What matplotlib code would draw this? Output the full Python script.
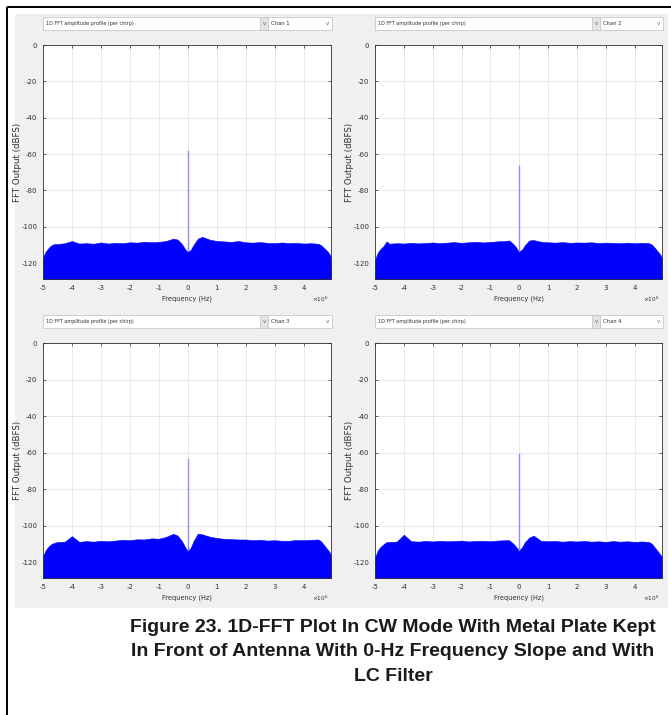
import matplotlib
matplotlib.use("Agg")
import matplotlib.pyplot as plt
from matplotlib.patches import Rectangle

W, H = 671, 715

# frequency breakpoints of the noise-floor envelope (MHz, axis is x10^6 Hz)
freq = [-5.0, -4.95, -4.9, -4.8, -4.7, -4.6, -4.5, -4.25, -4.0, -3.75, -3.5, -3.25,
        -3.0, -2.75, -2.5, -2.25, -2.0, -1.75, -1.5, -1.25, -1.0, -0.75, -0.5, -0.35,
        -0.2, -0.1, -0.03, 0.03, 0.1, 0.2, 0.35, 0.5, 0.75, 1.0, 1.25, 1.5, 1.75, 2.0,
        2.25, 2.5, 2.75, 3.0, 3.25, 3.5, 3.75, 4.0, 4.25, 4.5, 4.6, 4.7, 4.8, 4.9, 4.95]

# top of the noise floor per channel (dBFS)
floor_ch1 = [-117, -115, -113.5, -111.5, -110, -109.5, -109.5, -109, -107.8, -109.2, -109, -109.3,
             -108.6, -109.2, -108.8, -109, -108.5, -108.7, -108.2, -108.5, -108.3, -107.8, -106.5, -107,
             -109.5, -112, -113.5, -113.3, -112.8, -110, -106.5, -105.5, -107, -107.8, -108, -108.3, -107.8, -108.5,
             -108.7, -108.4, -108.8, -109, -108.6, -109, -108.8, -109.2, -109, -109.3, -110, -111.5, -113, -115, -117]
floor_ch2 = [-118.4, -116, -114, -112, -110.5, -108, -109.3, -109, -109.2, -108.8, -109.1, -108.9,
             -108.6, -109, -108.7, -108.4, -108.8, -108.5, -108.2, -108.6, -108.3, -108, -107.8, -107.5,
             -109.5, -111.5, -113.3, -113.2, -112.5, -110, -107.5, -107.3, -108.2, -108.5, -108.7, -108.4, -108.8, -108.6,
             -108.7, -108.5, -108.9, -108.7, -108.8, -109, -108.7, -109, -108.8, -109, -109.8, -111.5, -113.5, -115.5, -117.3]
floor_ch3 = [-117, -115, -113.3, -111.3, -110, -109.4, -109, -108.8, -105.8, -108.9, -108.5, -108.8,
             -108.3, -108.6, -108.2, -107.8, -108, -107.5, -107.6, -107, -107.2, -106.2, -104.5, -105.5,
             -108.5, -111.5, -113.3, -113.2, -112.3, -108.5, -104.4, -104.8, -106, -106.8, -107.2, -107.4, -107.6, -107.6,
             -108, -107.8, -108.2, -108, -108.3, -108.3, -107.9, -108, -107.8, -107.6, -108.5, -110.5, -112.5, -114.5, -116.8]
floor_ch4 = [-117.6, -115.5, -113.5, -111.5, -110.2, -109, -109, -108.8, -105, -108.5, -108.8, -108.4,
             -108.7, -108.3, -108.6, -108.5, -108.2, -108.7, -108.4, -108.3, -108.6, -108.2, -108, -108,
             -110, -111.8, -113.3, -113, -111.8, -109, -106.5, -105.5, -108.3, -108.6, -108.4, -108.8, -108.5, -108.7,
             -108.4, -108.8, -108.6, -108.9, -108.5, -108.8, -108.6, -108.9, -108.7, -109, -110, -112, -114, -116, -117.6]

# 0-Hz tone peak per channel (dBFS)
peak_level = [-58.5, -66.5, -63.5, -61.0]
channels = ["Chan 1", "Chan 2", "Chan 3", "Chan 4"]
floors = [floor_ch1, floor_ch2, floor_ch3, floor_ch4]

x_ticks = [-5, -4, -3, -2, -1, 0, 1, 2, 3, 4]
y_ticks = [0, -20, -40, -60, -80, -100, -120]

caption = ("Figure 23. 1D-FFT Plot In CW Mode With Metal Plate Kept\n"
           "In Front of Antenna With 0-Hz Frequency Slope and With\n"
           "LC Filter")

# axes boxes in pixels: (left, top, right, bottom)
boxes = [(43, 45, 331, 279), (375, 45, 662, 279),
         (43, 343, 331, 578), (375, 343, 662, 578)]

fig = plt.figure(figsize=(W / 100, H / 100), dpi=100, facecolor="white")

# background layer in pixel coordinates
bg = fig.add_axes([0, 0, 1, 1], zorder=-1)
bg.set_xlim(0, W)
bg.set_ylim(H, 0)
bg.axis("off")
bg.add_patch(Rectangle((15, 14), 653, 594, facecolor="#f0f0f0", edgecolor="none"))
bg.plot([7, 7], [7, H], color="black", lw=1.4, solid_capstyle="butt")
bg.plot([7, W], [7, 7], color="black", lw=1.4, solid_capstyle="butt")

dark = "#303030"

for i, (l, t, r, b) in enumerate(boxes):
    ax = fig.add_axes([l / W, 1 - b / H, (r - l) / W, (b - t) / H])
    ax.fill_between(freq, floors[i], -140, color="#0000ff", lw=0.4, edgecolor="#0000ff")
    ax.plot([0, 0], [floors[i][26], peak_level[i]], color="#8c8cff", lw=1.0)
    ax.set_xlim(-5, 4.95)
    ax.set_ylim(-128.7, 0)
    ax.set_xticks(x_ticks)
    ax.set_xticklabels([str(v) for v in x_ticks])
    ax.set_yticks(y_ticks)
    ax.set_yticklabels([str(v) for v in y_ticks])
    ax.grid(True, color="#e4e4e4", lw=0.6)
    ax.set_axisbelow(True)
    ax.tick_params(direction="in", length=2.5, width=0.5, top=True, right=True,
                   labelsize=5.0, colors=dark, pad=4)
    for s in ax.spines.values():
        s.set_color(dark)
        s.set_linewidth(0.6)

    # labels
    bg.text((l + r) / 2, b + 20, "Frequency (Hz)", fontsize=4.8, color=dark,
            ha="center", va="center")
    bg.text(r - 11, b + 20, r"$\times10^6$", fontsize=4.2, color=dark,
            ha="center", va="center")
    bg.text(l - 25, (t + b) / 2, "FFT Output (dBFS)", fontsize=6.2, color=dark,
            rotation=90, ha="center", va="center")

    # dropdown menus above each plot
    dt = t - 28
    bg.add_patch(Rectangle((l, dt), 225, 13, facecolor="white", edgecolor="#c8c8c8", lw=0.6))
    bg.add_patch(Rectangle((l + 217, dt), 8, 13, facecolor="#e3e3e3", edgecolor="#c8c8c8", lw=0.6))
    bg.text(l + 3, dt + 6.5, "1D FFT amplitude profile (per chirp)", fontsize=3.5,
            color="#333333", ha="left", va="center")
    bg.text(l + 221, dt + 6.5, "v", fontsize=4, color="#666666", ha="center", va="center")
    bg.add_patch(Rectangle((l + 225, dt), r - l - 224, 13, facecolor="white",
                           edgecolor="#c8c8c8", lw=0.6))
    bg.text(l + 228, dt + 6.5, channels[i], fontsize=3.8, color="#333333",
            ha="left", va="center")
    bg.text(r - 4, dt + 6.5, "v", fontsize=4, color="#666666", ha="center", va="center")

bg.text(393, 652, caption, fontsize=14, fontweight="bold", family="Liberation Sans",
        color="#1a1a1a", ha="center", va="center", linespacing=1.55)

fig.savefig("out.png", dpi=100, facecolor="white")
